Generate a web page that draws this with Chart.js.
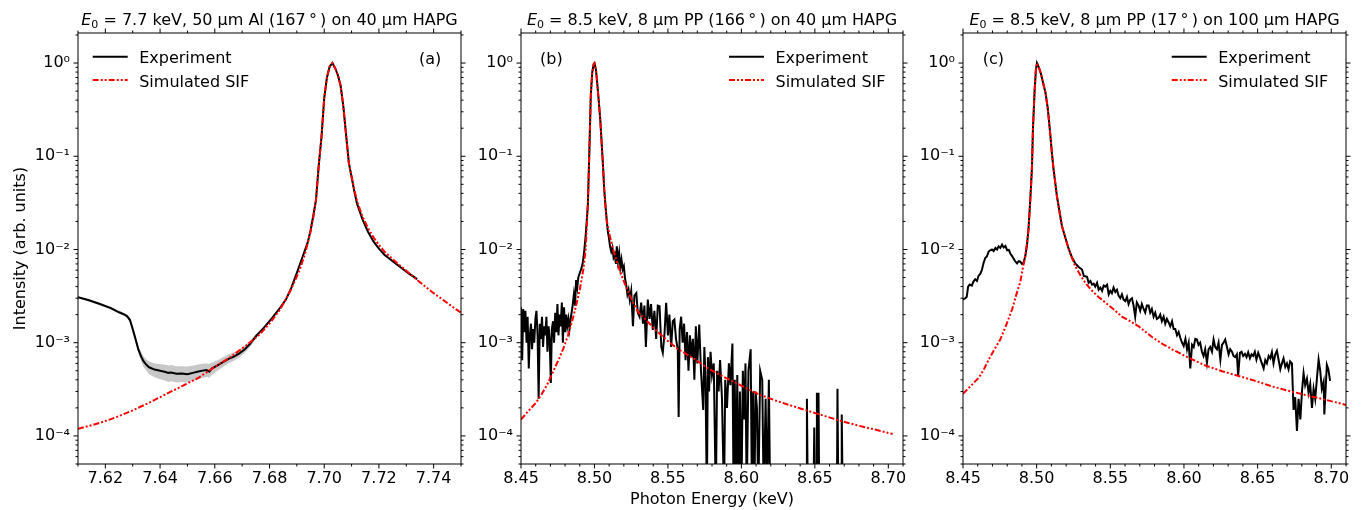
<!DOCTYPE html>
<html><head><meta charset="utf-8">
<script src="https://cdn.jsdelivr.net/npm/chart.js@4.4.1/dist/chart.umd.min.js"></script>
<style>
html,body{margin:0;padding:0;background:#fff;width:1364px;height:510px;overflow:hidden}
canvas{position:absolute;left:0;top:0}
</style></head><body>
<canvas id="ca" width="1364" height="510"></canvas>
<canvas id="cb" width="1364" height="510"></canvas>
<canvas id="cc" width="1364" height="510"></canvas>
<script>
// ---------- Panel (a) ----------
const aExpE = [7.610, 7.614, 7.618, 7.622, 7.625, 7.627, 7.628, 7.629, 7.630, 7.631,
  7.632, 7.633, 7.634, 7.635, 7.636, 7.638, 7.640, 7.642, 7.643, 7.644,
  7.646, 7.648, 7.650, 7.652, 7.654, 7.656, 7.657, 7.658, 7.659, 7.661,
  7.663, 7.665, 7.667, 7.669, 7.671, 7.673, 7.675, 7.678, 7.681, 7.684,
  7.686, 7.688, 7.690, 7.692, 7.694, 7.695, 7.696, 7.697, 7.698, 7.699,
  7.700, 7.701, 7.702, 7.703, 7.704, 7.705, 7.706, 7.707, 7.708, 7.709,
  7.710, 7.711, 7.712, 7.714, 7.716, 7.718, 7.720, 7.722, 7.725, 7.728,
  7.731, 7.734];
const aExpI = [3.08e-3, 2.85e-3, 2.6e-3, 2.35e-3, 2.12e-3, 2.0e-3, 1.92e-3, 1.75e-3, 1.4e-3, 1.1e-3,
  8.6e-4, 7.2e-4, 6.3e-4, 5.8e-4, 5.45e-4, 5.15e-4, 5.0e-4, 4.85e-4, 4.75e-4, 4.8e-4,
  4.65e-4, 4.68e-4, 4.6e-4, 4.75e-4, 4.9e-4, 5.05e-4, 5.1e-4, 4.9e-4, 5.3e-4, 5.7e-4,
  6.2e-4, 6.7e-4, 7.1e-4, 7.7e-4, 8.5e-4, 9.8e-4, 1.17e-3, 1.45e-3, 1.85e-3, 2.4e-3,
  2.9e-3, 3.9e-3, 5.6e-3, 8.2e-3, 1.2e-2, 1.6e-2, 2.3e-2, 3.4e-2, 8.0e-2, 0.16,
  0.42, 0.70, 0.92, 1.0, 0.88, 0.74, 0.57, 0.34, 0.17, 0.085,
  0.060, 0.042, 0.031, 0.021, 0.0155, 0.0122, 0.0102, 0.0088, 0.0075, 0.0064,
  0.0055, 0.0048];
const aBandE = [7.610, 7.614, 7.618, 7.622, 7.625, 7.627, 7.628, 7.629, 7.630, 7.631,
  7.632, 7.633, 7.634, 7.635, 7.636, 7.638, 7.640, 7.642, 7.643, 7.644,
  7.646, 7.648, 7.650, 7.652, 7.654, 7.656, 7.657, 7.658, 7.659, 7.661,
  7.663, 7.665, 7.667, 7.669, 7.671, 7.673, 7.675, 7.678];
const aBandLo = [3.0e-3, 2.77e-3, 2.52e-3, 2.27e-3, 2.04e-3, 1.92e-3, 1.83e-3, 1.65e-3, 1.3e-3, 1.0e-3,
  7.8e-4, 6.4e-4, 5.5e-4, 5.0e-4, 4.6e-4, 4.25e-4, 4.05e-4, 3.9e-4, 3.8e-4, 3.85e-4,
  3.75e-4, 3.8e-4, 3.75e-4, 3.9e-4, 4.05e-4, 4.2e-4, 4.3e-4, 4.2e-4, 4.55e-4, 5.0e-4,
  5.5e-4, 6.0e-4, 6.4e-4, 7.0e-4, 7.8e-4, 9.1e-4, 1.1e-3, 1.4e-3];
const aBandHi = [3.16e-3, 2.93e-3, 2.68e-3, 2.43e-3, 2.2e-3, 2.08e-3, 2.01e-3, 1.85e-3, 1.5e-3, 1.2e-3,
  9.4e-4, 8.0e-4, 7.1e-4, 6.6e-4, 6.3e-4, 6.0e-4, 5.9e-4, 5.8e-4, 5.7e-4, 5.75e-4,
  5.6e-4, 5.6e-4, 5.55e-4, 5.7e-4, 5.85e-4, 6.0e-4, 6.0e-4, 5.9e-4, 6.15e-4, 6.5e-4,
  7.0e-4, 7.5e-4, 7.9e-4, 8.5e-4, 9.3e-4, 1.06e-3, 1.24e-3, 1.5e-3];
const aSimE = [7.610, 7.618, 7.624, 7.630, 7.636, 7.642, 7.648, 7.654, 7.660, 7.666,
  7.672, 7.676, 7.680, 7.684, 7.688, 7.691, 7.693, 7.695, 7.696, 7.697,
  7.698, 7.699, 7.700, 7.701, 7.702, 7.703, 7.704, 7.705, 7.706, 7.707,
  7.708, 7.709, 7.710, 7.711, 7.712, 7.714, 7.716, 7.718, 7.720, 7.722,
  7.725, 7.728, 7.731, 7.734, 7.737, 7.740, 7.744, 7.748, 7.750];
const aSimI = [1.19e-4, 1.38e-4, 1.59e-4, 1.88e-4, 2.27e-4, 2.79e-4, 3.42e-4, 4.2e-4, 5.5e-4, 7.1e-4,
  9.6e-4, 1.2e-3, 1.6e-3, 2.3e-3, 3.8e-3, 6.0e-3, 9.0e-3, 1.55e-2, 2.2e-2, 3.4e-2,
  8.0e-2, 0.16, 0.42, 0.70, 0.92, 1.0, 0.88, 0.74, 0.57, 0.34,
  0.17, 0.085, 0.061, 0.044, 0.033, 0.0225, 0.017, 0.0135, 0.0112, 0.0095,
  0.0079, 0.0066, 0.0056, 0.0047, 0.0040, 0.0034, 0.0028, 0.0023, 0.0021];

// ---------- Panel (b) ----------
const bExpE = [8.4500, 8.4508, 8.4515, 8.4523, 8.4530, 8.4538, 8.4545, 8.4553, 8.4560, 8.4568,
  8.4575, 8.4583, 8.4590, 8.4598, 8.4605, 8.4613, 8.4620, 8.4628, 8.4635, 8.4643,
  8.4650, 8.4658, 8.4665, 8.4673, 8.4680, 8.4688, 8.4695, 8.4703, 8.4710, 8.4718,
  8.4725, 8.4733, 8.4740, 8.4748, 8.4755, 8.4763, 8.4770, 8.4778, 8.4785, 8.4793,
  8.4800, 8.4808, 8.4815, 8.4823, 8.4830, 8.4840, 8.4850, 8.4860, 8.4868, 8.4875,
  8.4883, 8.4890, 8.4900, 8.4910, 8.4920, 8.4930, 8.4940, 8.4955, 8.4965, 8.4975,
  8.4985, 8.4995, 8.5000, 8.5010, 8.5020, 8.5030, 8.5040, 8.5050, 8.5058, 8.5066,
  8.5074, 8.5082, 8.5090, 8.5098, 8.5106, 8.5114, 8.5122, 8.5130, 8.5138, 8.5146,
  8.5152, 8.5160, 8.5168, 8.5176, 8.5184, 8.5192, 8.5200, 8.5208, 8.5216, 8.5224,
  8.5232, 8.5240, 8.5250, 8.5262, 8.5272, 8.5285, 8.5295, 8.5307, 8.5318, 8.5330,
  8.5340, 8.5350, 8.5363, 8.5375, 8.5385, 8.5397, 8.5408, 8.5420, 8.5431, 8.5443,
  8.5455, 8.5465, 8.5477, 8.5488, 8.5500, 8.5510, 8.5522, 8.5533, 8.5544, 8.5555,
  8.5567, 8.5573, 8.5580, 8.5590, 8.5600, 8.5610, 8.5620, 8.5630, 8.5640, 8.5650,
  8.5660, 8.5670, 8.5680, 8.5690, 8.5700, 8.5713, 8.5725, 8.5740, 8.5748, 8.5756,
  8.5765, 8.5772, 8.5780, 8.5790, 8.5800, 8.5812, 8.5826, 8.5835, 8.5845, 8.5855,
  8.5868, 8.5882, 8.5890, 8.5902, 8.5915, 8.5925, 8.5939, 8.5947, 8.5955, 8.5963,
  8.5972, 8.5980, 8.5990, 8.6000, 8.6010, 8.6018, 8.6028, 8.6036, 8.6048, 8.6063,
  8.6072, 8.6080, 8.6088, 8.6097, 8.6106, 8.6115, 8.6128, 8.6142, 8.6152, 8.6165,
  8.6175, 8.6187, 8.6196, 8.6440, 8.6446, 8.6452, 8.6490, 8.6496, 8.6502, 8.6510,
  8.6514, 8.6519, 8.6522, 8.6525, 8.6530, 8.6650, 8.6654, 8.6660, 8.6680, 8.6683,
  8.6690, 8.7000];
const bExpI = [2.4e-3, 6.5e-4, 2.3e-3, 1.3e-3, 2.2e-3, 1.0e-3, 1.9e-3, 5.3e-4, 1.2e-3, 1.6e-3,
  8.5e-4, 1.4e-3, 1.0e-3, 1.8e-3, 2.2e-3, 1.2e-3, 2.5e-4, 1.6e-3, 1.1e-3, 1.9e-3,
  9e-4, 1.5e-3, 1.2e-3, 1.9e-3, 8e-4, 1.5e-3, 1.1e-3, 3.7e-4, 1.4e-3, 1.7e-3,
  1.0e-3, 2.1e-3, 1.3e-3, 2.6e-3, 1.2e-3, 2.0e-3, 1.5e-3, 2.7e-3, 1.0e-3, 2.4e-3,
  1.3e-3, 2.0e-3, 1.5e-3, 1.8e-3, 1.4e-3, 1.9e-3, 2.4e-3, 3.3e-3, 2.5e-3, 4.7e-3,
  3.9e-3, 5.0e-3, 5.6e-3, 6.2e-3, 7.1e-3, 9.5e-3, 1.4e-2, 3.0e-2, 0.11, 0.45,
  0.80, 0.98, 1.0, 0.85, 0.58, 0.38, 0.24, 0.13, 0.08, 0.045,
  0.031, 0.022, 0.016, 0.0135, 0.0108, 0.0095, 0.0105, 0.0082, 0.0088, 0.0070,
  0.0108, 0.0075, 0.0092, 0.0064, 0.0078, 0.0061, 0.0066, 0.0049, 0.0042, 0.0033,
  0.0037, 0.0029, 0.0036, 0.0015, 0.0032, 0.0034, 0.0021, 0.0019, 0.0027, 0.0016,
  0.0025, 0.0009, 0.0029, 0.0018, 0.0026, 0.00137, 0.0022, 0.0011, 0.0025, 0.00246,
  0.0009, 0.00078, 0.00127, 0.00268, 0.0012, 0.0020, 0.0009, 0.0017, 0.00177, 0.0011,
  0.00085, 0.00016, 0.0014, 0.0019, 0.0010, 0.0016, 0.00065, 0.0013, 0.0005, 0.0012,
  0.0007, 0.0011, 0.0004, 0.0015, 0.0006, 0.00157, 0.0005, 0.00019, 0.0009, 0.0004,
  0.00002, 0.0007, 0.0003, 0.0008, 0.00045, 0.0006, 0.00002, 0.0005, 0.0003, 0.00065,
  0.00025, 0.00002, 0.0004, 0.0002, 0.0006, 0.00035, 0.00098, 0.00002, 0.0004, 0.00002,
  0.00045, 0.00002, 0.0003, 0.00002, 0.0005, 0.00015, 0.0006, 0.00002, 0.0005, 0.00085,
  0.00002, 0.0003, 0.00002, 0.0003, 0.0002, 0.00002, 0.0005, 0.0004, 0.00002, 0.00025,
  0.00002, 0.0004, 0.00002, 0.00002, 0.00025, 0.00002, 0.00002, 0.000123, 0.00002, 0.00002,
  0.00029, 0.00002, 0.00002, 0.00029, 0.00002, 0.00002, 0.00032, 0.00002, 0.00002, 0.00017,
  0.00002, 0.00002];
const bSimE = [8.450, 8.455, 8.460, 8.464, 8.468, 8.472, 8.476, 8.479, 8.482, 8.485,
  8.4875, 8.490, 8.4925, 8.494, 8.4955, 8.4965, 8.4975, 8.4985, 8.4995, 8.5000,
  8.5010, 8.5020, 8.5030, 8.5040, 8.5050, 8.5058, 8.5066, 8.5074, 8.5082, 8.510,
  8.5127, 8.516, 8.5194, 8.523, 8.5262, 8.530, 8.5352, 8.541, 8.5488, 8.557,
  8.5668, 8.5781, 8.5894, 8.6006, 8.6119, 8.6232, 8.6345, 8.6457, 8.657, 8.6683,
  8.6796, 8.6909, 8.7030];
const bSimI = [1.5e-4, 1.85e-4, 2.25e-4, 2.8e-4, 3.6e-4, 4.95e-4, 6.8e-4, 8.8e-4, 1.2e-3, 1.75e-3,
  2.5e-3, 3.7e-3, 6.2e-3, 1.0e-2, 3.0e-2, 0.11, 0.45, 0.80, 0.98, 1.0,
  0.85, 0.58, 0.38, 0.24, 0.13, 0.08, 0.045, 0.03, 0.021, 0.015,
  0.010, 0.0068, 0.0048, 0.0035, 0.0027, 0.0021, 0.00175, 0.0014, 0.00108, 0.00085,
  0.00069, 0.00052, 0.00042, 0.000342, 0.000279, 0.00024, 0.00021, 0.000185, 0.000163, 0.000144,
  0.000129, 0.000117, 0.000105];

// ---------- Panel (c) ----------
const cExpE = [8.4500, 8.4515, 8.4525, 8.4535, 8.4545, 8.4560, 8.4570, 8.4583, 8.4595, 8.4605,
  8.4618, 8.4629, 8.4640, 8.4651, 8.4662, 8.4674, 8.4685, 8.4697, 8.4708, 8.4720,
  8.4731, 8.4742, 8.4753, 8.4765, 8.4776, 8.4788, 8.4800, 8.4811, 8.4822, 8.4833,
  8.4845, 8.4856, 8.4867, 8.4878, 8.4889, 8.4900, 8.4911, 8.4923, 8.4934, 8.4945,
  8.4957, 8.4968, 8.4975, 8.4986, 8.4995, 8.5002, 8.5015, 8.5030, 8.5045, 8.5060,
  8.5075, 8.5090, 8.5103, 8.5115, 8.5138, 8.5172, 8.5217, 8.5240, 8.5262, 8.5285,
  8.5308, 8.5320, 8.5342, 8.5353, 8.5365, 8.5376, 8.5387, 8.5398, 8.5410, 8.5421,
  8.5432, 8.5444, 8.5455, 8.5466, 8.5478, 8.5489, 8.5500, 8.5511, 8.5522, 8.5534,
  8.5545, 8.5556, 8.5568, 8.5579, 8.5590, 8.5602, 8.5613, 8.5624, 8.5636, 8.5647,
  8.5658, 8.5669, 8.5680, 8.5692, 8.5703, 8.5714, 8.5726, 8.5737, 8.5748, 8.5760,
  8.5771, 8.5782, 8.5794, 8.5805, 8.5816, 8.5828, 8.5839, 8.5850, 8.5862, 8.5873,
  8.5884, 8.5896, 8.5907, 8.5919, 8.5930, 8.5941, 8.5953, 8.5964, 8.5975, 8.5987,
  8.5998, 8.6010, 8.6021, 8.6032, 8.6043, 8.6055, 8.6066, 8.6077, 8.6088, 8.6099,
  8.6110, 8.6122, 8.6133, 8.6144, 8.6156, 8.6167, 8.6178, 8.6190, 8.6201, 8.6212,
  8.6224, 8.6235, 8.6247, 8.6258, 8.6269, 8.6280, 8.6292, 8.6303, 8.6314, 8.6326,
  8.6337, 8.6348, 8.6359, 8.6368, 8.6380, 8.6391, 8.6402, 8.6414, 8.6425, 8.6436,
  8.6448, 8.6459, 8.6470, 8.6481, 8.6492, 8.6504, 8.6515, 8.6526, 8.6541, 8.6552,
  8.6563, 8.6575, 8.6586, 8.6597, 8.6608, 8.6620, 8.6631, 8.6642, 8.6654, 8.6665,
  8.6676, 8.6688, 8.6699, 8.6710, 8.6721, 8.6733, 8.6744, 8.6755, 8.6767, 8.6778,
  8.6790, 8.6801, 8.6812, 8.6823, 8.6835, 8.6846, 8.6857, 8.6869, 8.6880, 8.6891,
  8.6903, 8.6914, 8.6925, 8.6936, 8.6948, 8.6953, 8.6970, 8.6980, 8.6992];
const cExpI = [2.9e-3, 3.0e-3, 3.1e-3, 4.0e-3, 4.2e-3, 4.1e-3, 4.5e-3, 4.8e-3, 4.6e-3, 5.2e-3,
  5.5e-3, 6.1e-3, 7.2e-3, 8.1e-3, 8.4e-3, 9.5e-3, 9.8e-3, 1.0e-2, 9.6e-3, 1.04e-2,
  1.0e-2, 1.08e-2, 1.04e-2, 1.13e-2, 1.05e-2, 1.09e-2, 9.8e-3, 9.9e-3, 9.0e-3, 8.5e-3,
  7.9e-3, 7.4e-3, 7.1e-3, 7.5e-3, 7.4e-3, 7.0e-3, 7.2e-3, 8.5e-3, 1.1e-2, 1.7e-2,
  3.5e-2, 7.5e-2, 0.2, 0.5, 0.85, 1.0, 0.90, 0.76, 0.6, 0.48,
  0.33, 0.19, 0.11, 0.072, 0.037, 0.0177, 0.0102, 0.0082, 0.0071, 0.0065,
  0.0061, 0.0052, 0.0051, 0.0044, 0.0046, 0.0042, 0.0043, 0.0040, 0.0044, 0.0037,
  0.0039, 0.0036, 0.0041, 0.0040, 0.0042, 0.0033, 0.0036, 0.0034, 0.0039, 0.0035,
  0.0037, 0.0032, 0.0030, 0.0033, 0.0029, 0.0028, 0.0031, 0.0026, 0.0029, 0.0030,
  0.0025, 0.0019, 0.0027, 0.0025, 0.0022, 0.0026, 0.0023, 0.0021, 0.0025, 0.0025,
  0.0021, 0.0023, 0.0019, 0.0021, 0.0018, 0.00185, 0.0020, 0.0017, 0.0019, 0.0016,
  0.0018, 0.00165, 0.0015, 0.0017, 0.0014, 0.0014, 0.0012, 0.0013, 0.00113, 0.0010,
  0.00092, 0.0011, 0.00085, 0.0010, 0.00053, 0.00095, 0.0009, 0.0011, 0.00108, 0.00095,
  0.0010, 0.0008, 0.00072, 0.00085, 0.00061, 0.00085, 0.0009, 0.0008, 0.00108, 0.0009,
  0.00085, 0.0010, 0.00066, 0.00095, 0.0010, 0.00108, 0.0009, 0.00075, 0.00085, 0.0008,
  0.00072, 0.0007, 0.00075, 0.00044, 0.00078, 0.0008, 0.00072, 0.00076, 0.0007, 0.00079,
  0.00068, 0.00075, 0.00072, 0.0008, 0.00066, 0.00078, 0.0007, 0.00062, 0.00053, 0.00065,
  0.0006, 0.00072, 0.00068, 0.00079, 0.0006, 0.00075, 0.00082, 0.00066, 0.00052, 0.0006,
  0.00068, 0.00055, 0.0006, 0.00052, 0.00063, 0.0006, 0.00019, 0.00026, 0.000113, 0.00025,
  0.00015, 0.0003, 0.00047, 0.00035, 0.00041, 0.00029, 0.00036, 0.0002, 0.00032, 0.00025,
  0.00042, 0.00066, 0.0005, 0.00032, 0.00038, 0.00017, 0.00058, 0.00052, 0.00039];
const cSimE = [8.450, 8.455, 8.4606, 8.464, 8.4674, 8.471, 8.4753, 8.479, 8.4833, 8.486,
  8.4889, 8.4906, 8.4923, 8.4945, 8.4961, 8.4968, 8.4975, 8.4986, 8.4995, 8.5002,
  8.5015, 8.5030, 8.5045, 8.5060, 8.5075, 8.5090, 8.5103, 8.5115, 8.5138, 8.5172,
  8.5217, 8.5262, 8.5300, 8.5330, 8.5376, 8.5420, 8.5466, 8.5520, 8.5579, 8.5635,
  8.5692, 8.5783, 8.5850, 8.5919, 8.6031, 8.6145, 8.6258, 8.6371, 8.6484, 8.6597,
  8.6710, 8.6824, 8.6937, 8.7100];
const cSimI = [2.83e-4, 3.4e-4, 4.2e-4, 5.1e-4, 6.6e-4, 8.3e-4, 1.08e-3, 1.5e-3, 2.27e-3, 3.2e-3,
  4.5e-3, 6.3e-3, 8.45e-3, 0.0163, 0.044, 0.075, 0.2, 0.5, 0.85, 1.0,
  0.90, 0.76, 0.6, 0.48, 0.33, 0.19, 0.11, 0.072, 0.037, 0.0177,
  0.0101, 0.0066, 0.0052, 0.0044, 0.0036, 0.0031, 0.0027, 0.0023, 0.0019, 0.0017,
  0.0015, 0.00115, 0.00098, 0.00085, 0.00069, 0.00057, 0.000495, 0.00044, 0.00039, 0.00034,
  0.000305, 0.000275, 0.00025, 0.000215];

// ---------- Ticks ----------
const aXMajor = [7.62, 7.64, 7.66, 7.68, 7.70, 7.72, 7.74];
const aXMinor = [7.61, 7.63, 7.65, 7.67, 7.69, 7.71, 7.73, 7.75];
const bcXMajor = [8.45, 8.50, 8.55, 8.60, 8.65, 8.70];
const bcXMinor = [8.46, 8.47, 8.48, 8.49, 8.51, 8.52, 8.53, 8.54, 8.56, 8.57, 8.58, 8.59,
  8.61, 8.62, 8.63, 8.64, 8.66, 8.67, 8.68, 8.69, 8.71];
const yMajor = [1e-4, 1e-3, 1e-2, 1e-1, 1];
const yMajorLabels = ['10\u207B\u2074', '10\u207B\u00B3', '10\u207B\u00B2', '10\u207B\u00B9', '10\u2070'];
const yMinor = [5e-5, 6e-5, 7e-5, 8e-5, 9e-5,
  2e-4, 3e-4, 4e-4, 5e-4, 6e-4, 7e-4, 8e-4, 9e-4,
  2e-3, 3e-3, 4e-3, 5e-3, 6e-3, 7e-3, 8e-3, 9e-3,
  2e-2, 3e-2, 4e-2, 5e-2, 6e-2, 7e-2, 8e-2, 9e-2,
  0.2, 0.3, 0.4, 0.5, 0.6, 0.7, 0.8, 0.9, 2];

const FAM = '"DejaVu Sans"';
const RED_DASH = [6, 2, 2, 2, 2, 2];
const pts = (E, I) => E.map((e, i) => ({x: e, y: I[i]}));

function drawTitle(ctx, cx, y, rest) {
  const fi = 'italic 16px ' + FAM, fs = '11px ' + FAM, fn = '16px ' + FAM;
  ctx.font = fi; const wE = ctx.measureText('E').width;
  ctx.font = fs; const w0 = ctx.measureText('0').width;
  ctx.font = fn; const wR = ctx.measureText(rest).width;
  let x = cx - (wE + w0 + wR) / 2;
  ctx.textAlign = 'left'; ctx.textBaseline = 'alphabetic'; ctx.fillStyle = '#000';
  ctx.font = fi; ctx.fillText('E', x, y); x += wE;
  ctx.font = fs; ctx.fillText('0', x, y + 3.5); x += w0;
  ctx.font = fn; ctx.fillText(rest, x, y);
}

function decor(p) {
  return {
    id: 'decor_' + p.id,
    afterDraw(chart) {
      const ctx = chart.ctx, a = chart.chartArea, xs = chart.scales.x, ys = chart.scales.y;
      ctx.save();
      ctx.setLineDash([]);
      ctx.strokeStyle = '#000'; ctx.lineWidth = 1;
      ctx.strokeRect(a.left, a.top, a.right - a.left, a.bottom - a.top);
      ctx.beginPath();
      const tx = (vals, len) => vals.forEach(v => {
        const x = xs.getPixelForValue(v);
        ctx.moveTo(x, a.bottom); ctx.lineTo(x, a.bottom + len);
        ctx.moveTo(x, a.top); ctx.lineTo(x, a.top - len);
      });
      const ty = (vals, len) => vals.forEach(v => {
        const y = ys.getPixelForValue(v);
        ctx.moveTo(a.left, y); ctx.lineTo(a.left - len, y);
        ctx.moveTo(a.right, y); ctx.lineTo(a.right + len, y);
      });
      tx(p.xMajor, 4.5); tx(p.xMinor, 2.5); ty(yMajor, 4.5); ty(yMinor, 2.5);
      ctx.stroke();

      const lx = p.legendX, y1 = 56.7, y2 = 80;
      ctx.beginPath(); ctx.strokeStyle = '#000'; ctx.lineWidth = 2;
      ctx.moveTo(lx, y1); ctx.lineTo(lx + 35, y1); ctx.stroke();
      ctx.beginPath(); ctx.strokeStyle = '#ff0000'; ctx.lineWidth = 2; ctx.lineCap = 'butt';
      ctx.setLineDash(RED_DASH);
      ctx.moveTo(lx, y2); ctx.lineTo(lx + 35, y2); ctx.stroke();
      ctx.setLineDash([]);
      ctx.fillStyle = '#000'; ctx.font = '16px ' + FAM; ctx.textAlign = 'left'; ctx.textBaseline = 'alphabetic';
      ctx.fillText('Experiment', lx + 46.5, 63.3);
      ctx.fillText('Simulated SIF', lx + 46.5, 87.3);
      ctx.fillText(p.letter, p.letterX, 63.5);
      drawTitle(ctx, (a.left + a.right) / 2, 24.5, p.title);
      if (p.yTitle) {
        ctx.save(); ctx.translate(24.5, (a.top + a.bottom) / 2); ctx.rotate(-Math.PI / 2);
        ctx.textAlign = 'center'; ctx.fillText(p.yTitle, 0, 0); ctx.restore();
      }
      if (p.xTitle) {
        ctx.textAlign = 'center'; ctx.fillText(p.xTitle, (a.left + a.right) / 2, 503.5);
      }
      ctx.restore();
    }
  };
}

function makePanel(p) {
  const datasets = [
    {label: 'Simulated SIF', data: pts(p.simE, p.simI), borderColor: '#ff0000', borderWidth: 2,
     borderDash: RED_DASH, borderCapStyle: 'butt', order: 0, fill: false, clip: 0},
    {label: 'Experiment', data: pts(p.expE, p.expI), borderColor: '#000000', borderWidth: 2,
     order: 1, fill: false, clip: 0}
  ];
  if (p.bandE) {
    datasets.push({label: 'bandHi', data: pts(p.bandE, p.bandHi), borderColor: 'rgba(0,0,0,0)', borderWidth: 1,
      backgroundColor: '#c8c8c8', fill: '+1', order: 2, clip: 0});
    datasets.push({label: 'bandLo', data: pts(p.bandE, p.bandLo), borderColor: 'rgba(0,0,0,0)', borderWidth: 1,
      fill: false, order: 3, clip: 0});
  }
  const tickFont = {family: 'DejaVu Sans', size: 16};
  const leftW = p.area[0], bottomH = 510 - p.area[3];
  new Chart(document.getElementById(p.id), {
    type: 'line',
    data: {datasets},
    options: {
      responsive: false, animation: false, devicePixelRatio: 1, events: [],
      layout: {padding: {left: 0, top: p.area[1], right: 1364 - p.area[2], bottom: 0}},
      plugins: {legend: {display: false}, tooltip: {enabled: false}, title: {display: false}},
      elements: {point: {radius: 0}, line: {tension: 0}},
      scales: {
        x: {type: 'linear', min: p.xmin, max: p.xmax, position: 'bottom',
            grid: {display: false, drawTicks: false, tickLength: 0}, border: {display: false},
            afterBuildTicks: s => { s.ticks = p.xMajor.map(v => ({value: v})); },
            afterFit: s => { s.height = bottomH; },
            ticks: {autoSkip: false, maxRotation: 0, minRotation: 0, padding: 5, color: '#000', font: tickFont,
                    callback: v => Number(v).toFixed(2)}},
        y: {type: 'logarithmic', min: 5e-5, max: 2.1, position: 'left',
            grid: {display: false, drawTicks: false, tickLength: 0}, border: {display: false},
            afterBuildTicks: s => { s.ticks = yMajor.map(v => ({value: v})); },
            afterFit: s => { s.width = leftW; },
            ticks: {autoSkip: false, padding: 8, color: '#000', font: tickFont,
                    callback: v => { const k = yMajor.findIndex(m => Math.abs(Math.log10(m) - Math.log10(v)) < 1e-6); return k >= 0 ? yMajorLabels[k] : ''; }}}
      }
    },
    plugins: [decor(p)]
  });
}

makePanel({id: 'ca', area: [78, 33, 461, 464], xmin: 7.61, xmax: 7.75, xMajor: aXMajor, xMinor: aXMinor,
  expE: aExpE, expI: aExpI, simE: aSimE, simI: aSimI, bandE: aBandE, bandLo: aBandLo, bandHi: aBandHi,
  title: ' = 7.7 keV, 50 \u00B5m Al (167\u2009\u00B0\u2009) on 40 \u00B5m HAPG', letter: '(a)', letterX: 419,
  legendX: 92.7, yTitle: 'Intensity (arb. units)'});
makePanel({id: 'cb', area: [521, 33, 903, 464], xmin: 8.45, xmax: 8.71, xMajor: bcXMajor, xMinor: bcXMinor,
  expE: bExpE, expI: bExpI, simE: bSimE, simI: bSimI,
  title: ' = 8.5 keV, 8 \u00B5m PP (166\u2009\u00B0\u2009) on 40 \u00B5m HAPG', letter: '(b)', letterX: 540,
  legendX: 729, xTitle: 'Photon Energy (keV)'});
makePanel({id: 'cc', area: [963, 33, 1346, 464], xmin: 8.45, xmax: 8.71, xMajor: bcXMajor, xMinor: bcXMinor,
  expE: cExpE, expI: cExpI, simE: cSimE, simI: cSimI,
  title: ' = 8.5 keV, 8 \u00B5m PP (17\u2009\u00B0\u2009) on 100 \u00B5m HAPG', letter: '(c)', letterX: 982.7,
  legendX: 1171.7});
</script>
</body></html>
